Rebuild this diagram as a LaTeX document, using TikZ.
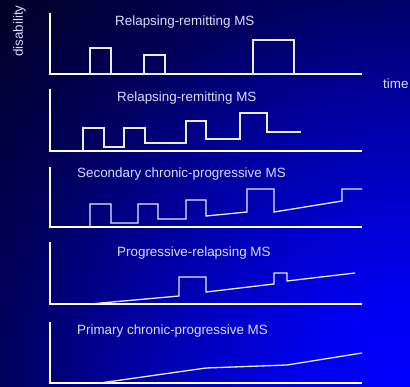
\documentclass[tikz,border=0pt]{standalone}
\usepackage{fontspec}
\setmainfont{Liberation Sans}
\usepackage{tikz}
\usetikzlibrary{positioning}
\definecolor{glowA}{RGB}{0,0,255}
\definecolor{glowB}{RGB}{0,0,240}
\definecolor{glowC}{RGB}{0,0,200}
\definecolor{glowD}{RGB}{0,0,150}
\definecolor{glowE}{RGB}{0,0,95}
\definecolor{glowF}{RGB}{0,0,55}
\definecolor{glowG}{RGB}{0,0,28}
\pgfdeclareradialshading{msglow}{\pgfpointorigin}{color(0bp)=(glowA); color(4bp)=(glowB); color(8bp)=(glowC); color(12.5bp)=(glowD); color(16.7bp)=(glowE); color(21bp)=(glowF); color(25bp)=(glowG); color(50bp)=(glowG)}

\begin{document}
\begin{tikzpicture}[
        x=1pt, y=-1pt,
        axis/.style={draw=white, line width=1.5pt},
        trace/.style={draw=white!92!blue, line width=1.3pt},
        heading/.style={anchor=base west, inner sep=0pt, text=white!86!blue, font=\fontsize{13.4}{16}\selectfont}
    ]
        \useasboundingbox (0,0) rectangle (410,387);
        \begin{scope}
            \clip (0,0) rectangle (410,387);
            \shade[shading=msglow] (410,387) circle [radius=600pt];
        \end{scope}

        \foreach \top/\base in {13/74, 89/151, 167/227, 242/304, 322/383}
            \draw [axis] (50,\top) -- (50,\base) -- (362,\base);

        \node (rr1) [heading] at (115,26) {Relapsing-remitting MS};
        \node (rr2) [heading] at (117,102) {Relapsing-remitting MS};
        \node (scp) [heading] at (77,178) {Secondary chronic-progressive MS};
        \node (pr) [heading] at (117,257) {Progressive-relapsing MS};
        \node (pcp) [heading] at (77,335) {Primary chronic-progressive MS};
        \node (disab) [heading, rotate=90] at (23,57) {disability};
        \node (time) [heading] at (383,89) {time};

        \draw [trace] (90,74) rectangle (111,48) (144,74) rectangle (165,55) (253,74) rectangle (294,40);
        \draw [trace] (83,151) |- (104,128) |- (124,147) |- (145,128) |- (186,143) |- (206,121) |- (240,139) |- (267,113) |- (301,132);
        \draw [trace] (90,227) |- (111,204) |- (138,223) |- (158,204) |- (186,219) |- (206,200) -- (206,216) -- (247,212) |- (274,189) -- (274,212) -- (342,201) |- (362,189);
        \draw [trace] (90,304) -- (179,296) |- (206,277) -- (206,292) -- (274,284) |- (287,273) -- (287,281) -- (355,273);
        \draw [trace] (100,383) -- (206,368) -- (287,365) -- (362,353);
    \end{tikzpicture}
\end{document}
